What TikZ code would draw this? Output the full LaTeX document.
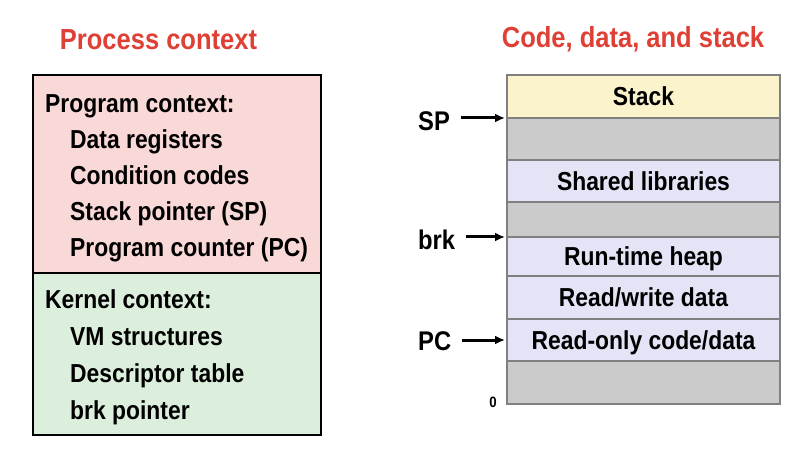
\documentclass[tikz,border=0pt]{standalone}
\usepackage{fontspec}
\setmainfont{Liberation Sans}[FakeStretch=0.88]
\usetikzlibrary{positioning,arrows.meta}

\definecolor{titlered}{RGB}{222,64,54}
\definecolor{progpink}{RGB}{249,216,216}
\definecolor{kerngreen}{RGB}{220,239,220}
\definecolor{stackyellow}{RGB}{251,243,204}
\definecolor{gapgray}{RGB}{203,203,203}
\definecolor{seglavender}{RGB}{227,229,246}
\definecolor{segline}{RGB}{128,128,128}

\tikzset{
  heading/.style={text=titlered, font=\fontsize{29}{30}\selectfont\bfseries, anchor=base, inner sep=0pt},
  ctxbox/.style={draw=black, line width=2.5pt, minimum width=288pt, outer sep=0pt},
  ctxtext/.style={font=\fontsize{26}{28}\selectfont\bfseries, anchor=base west, inner sep=0pt},
  seg/.style={draw=segline, line width=1.2pt, minimum width=273pt, outer sep=0pt, inner sep=0pt,
    font=\fontsize{26}{28}\selectfont\bfseries, text height=18.6pt, text depth=0pt},
  ptrlabel/.style={font=\fontsize{27}{28}\selectfont\bfseries, anchor=base west, inner sep=0pt},
  ptrarrow/.style={line width=3pt, -{Latex[length=10pt,width=9pt]}, shorten <=11pt, shorten >=2pt},
  zerolabel/.style={font=\fontsize{15}{16}\selectfont\bfseries, inner sep=0pt}
}

\begin{document}
\begin{tikzpicture}[x=1pt,y=-1pt]
    \useasboundingbox (0,0) rectangle (800,462);

    % titles
    \node[heading] (ptitle) at (158.5,50) {Process context};
    \node[heading] (ctitle) at (633,48) {Code, data, and stack};

    % process context box
    \node[ctxbox, fill=progpink, minimum height=198pt, anchor=north west] (prog) at (33,75) {};
    \node[ctxbox, fill=kerngreen, minimum height=162pt, below=0pt of prog] (kern) {};

    \node[ctxtext] (progHead) at (45,113) {Program context:};
    \foreach \txt [count=\i] in {Data registers, Condition codes, {Stack pointer (SP)}, {Program counter (PC)}}
        \node[ctxtext] (prog\i) at (70,113+36*\i) {\txt};

    \node[ctxtext] (kernHead) at (45,308) {Kernel context:};
    \foreach \txt [count=\i] in {VM structures, Descriptor table, brk pointer}
        \node[ctxtext] (kern\i) at (70,308+37*\i) {\txt};

    % address space
    \node[seg, fill=stackyellow, minimum height=43pt, anchor=north west] (stack) at (507,75) {Stack};
    \node[seg, fill=gapgray, minimum height=42pt, below=0pt of stack] (gapA) {};
    \node[seg, fill=seglavender, minimum height=42pt, below=0pt of gapA] (shlib) {Shared libraries};
    \node[seg, fill=gapgray, minimum height=35pt, below=0pt of shlib] (gapB) {};
    \node[seg, fill=seglavender, minimum height=39pt, below=0pt of gapB] (heap) {Run-time heap};
    \node[seg, fill=seglavender, minimum height=43pt, below=0pt of heap] (rwdata) {Read/write data};
    \node[seg, fill=seglavender, minimum height=42pt, below=0pt of rwdata] (rodata) {Read-only code/data};
    \node[seg, fill=gapgray, minimum height=43pt, below=0pt of rodata] (gapC) {};

    % pointers
    \node[ptrlabel] (sp) at (418,131) {SP};
    \node[ptrlabel] (brk) at (418,250) {brk};
    \node[ptrlabel] (pc) at (418,350) {PC};

    \draw[ptrarrow] (sp.east |- stack.south west) -- (stack.south west);
    \draw[ptrarrow] (brk.east |- heap.north west) -- (heap.north west);
    \draw[ptrarrow] (pc.east |- rodata.west) -- (rodata.west);

    \node[zerolabel, anchor=base east] (zero) at ([shift={(-10,3)}]gapC.south west) {0};
\end{tikzpicture}
\end{document}
